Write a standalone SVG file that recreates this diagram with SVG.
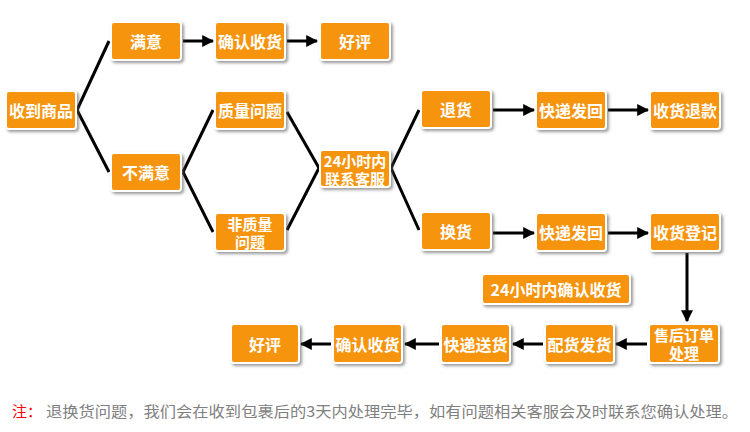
<svg xmlns="http://www.w3.org/2000/svg" width="750" height="432" viewBox="0 0 750 432">
<style>
.b{fill:#F7940C;stroke:#fff;stroke-width:2;filter:url(#sh)}
.t{fill:#fff;font-family:"Noto Sans CJK SC","Noto Sans",sans-serif;font-weight:bold;font-size:16px;text-anchor:middle;dominant-baseline:central}
.t2{font-size:15px}
.l{stroke:#000;stroke-width:3;fill:none}
.a{stroke:#000;stroke-width:3;fill:none;marker-end:url(#ah)}
.n{font-family:"Noto Sans CJK SC","Noto Sans",sans-serif;font-size:15px}
</style>
<defs>
<filter id="sh" x="-20%" y="-20%" width="150%" height="160%">
<feDropShadow dx="2" dy="2" stdDeviation="1.5" flood-color="#555" flood-opacity="0.6"/>
</filter>
<marker id="ah" viewBox="0 0 10 10" refX="9" refY="5" markerWidth="4" markerHeight="4" orient="auto" markerUnits="strokeWidth">
<path d="M0,0 L10,5 L0,10 z" fill="#000"/>
</marker>
</defs>
<rect width="750" height="432" fill="#fff"/>
<g id="connectors">
<path class="l" d="M77,110 L109,41"/>
<path class="l" d="M77,110 L109,172"/>
<path class="a" d="M183,41 L213,41"/>
<path class="a" d="M287,41 L317,41"/>
<path class="l" d="M183,172 L213,110"/>
<path class="l" d="M183,172 L213,232"/>
<path class="l" d="M287,112 L319,168"/>
<path class="l" d="M287,230 L319,168"/>
<path class="l" d="M391,168 L419,110"/>
<path class="l" d="M391,168 L419,230"/>
<path class="a" d="M493,110 L534,110"/>
<path class="a" d="M608,110 L648,110"/>
<path class="a" d="M493,233 L534,233"/>
<path class="a" d="M608,233 L648,233"/>
<path class="a" d="M687,253 L687,321"/>
<path class="a" d="M647,344 L616,344"/>
<path class="a" d="M543,344 L513,344"/>
<path class="a" d="M439,344 L405,344"/>
<path class="a" d="M331,344 L301,344"/>
</g>
<g id="n1"><rect class="b" x="6" y="91" width="70" height="38" rx="3"/><text class="t" x="41" y="110">收到商品</text></g>
<g id="n2"><rect class="b" x="111" y="22" width="70" height="38" rx="3"/><text class="t" x="146" y="41">满意</text></g>
<g id="n3"><rect class="b" x="215" y="22" width="70" height="38" rx="3"/><text class="t" x="250" y="41">确认收货</text></g>
<g id="n4"><rect class="b" x="320" y="22" width="70" height="38" rx="3"/><text class="t" x="355" y="41">好评</text></g>
<g id="n5"><rect class="b" x="111" y="153" width="70" height="38" rx="3"/><text class="t" x="146" y="172">不满意</text></g>
<g id="n6"><rect class="b" x="215" y="91" width="70" height="38" rx="3"/><text class="t" x="250" y="110">质量问题</text></g>
<g id="n7"><rect class="b" x="215" y="213" width="70" height="38" rx="3"/><text class="t t2" x="250" y="223">非质量<tspan x="250" dy="18">问题</tspan></text></g>
<g id="n8"><rect class="b" x="320" y="150" width="70" height="37" rx="3"/><text class="t t2" x="355" y="160">24小时内<tspan x="355" dy="18">联系客服</tspan></text></g>
<g id="n9"><rect class="b" x="421" y="90" width="70" height="38" rx="3"/><text class="t" x="456" y="109">退货</text></g>
<g id="n10"><rect class="b" x="536" y="91" width="70" height="38" rx="3"/><text class="t" x="571" y="110">快递发回</text></g>
<g id="n11"><rect class="b" x="650" y="91" width="70" height="38" rx="3"/><text class="t" x="685" y="110">收货退款</text></g>
<g id="n12"><rect class="b" x="421" y="212" width="70" height="38" rx="3"/><text class="t" x="456" y="231">换货</text></g>
<g id="n13"><rect class="b" x="536" y="213" width="70" height="38" rx="3"/><text class="t" x="571" y="232">快递发回</text></g>
<g id="n14"><rect class="b" x="650" y="213" width="70" height="38" rx="3"/><text class="t" x="685" y="232">收货登记</text></g>
<g id="n15"><rect class="b" x="482" y="274" width="148" height="30" rx="3"/><text class="t" x="556" y="289">24小时内确认收货</text></g>
<g id="n16"><rect class="b" x="649" y="324" width="70" height="39" rx="3"/><text class="t t2" x="684" y="334">售后订单<tspan x="684" dy="18">处理</tspan></text></g>
<g id="n17"><rect class="b" x="545" y="324" width="69" height="39" rx="3"/><text class="t" x="579.5" y="343.5">配货发货</text></g>
<g id="n18"><rect class="b" x="441" y="324" width="69" height="39" rx="3"/><text class="t" x="475.5" y="343.5">快递送货</text></g>
<g id="n19"><rect class="b" x="333" y="324" width="69" height="39" rx="3"/><text class="t" x="367.5" y="343.5">确认收货</text></g>
<g id="n20"><rect class="b" x="231" y="324" width="68" height="39" rx="3"/><text class="t" x="265" y="343.5">好评</text></g>
<g id="note">
<text class="n" x="12" y="417" fill="#f00">注：</text>
<text class="n" x="46" y="417" fill="#808080" textLength="692" lengthAdjust="spacingAndGlyphs">退换货问题，我们会在收到包裹后的3天内处理完毕，如有问题相关客服会及时联系您确认处理。</text>
</g>
</svg>
